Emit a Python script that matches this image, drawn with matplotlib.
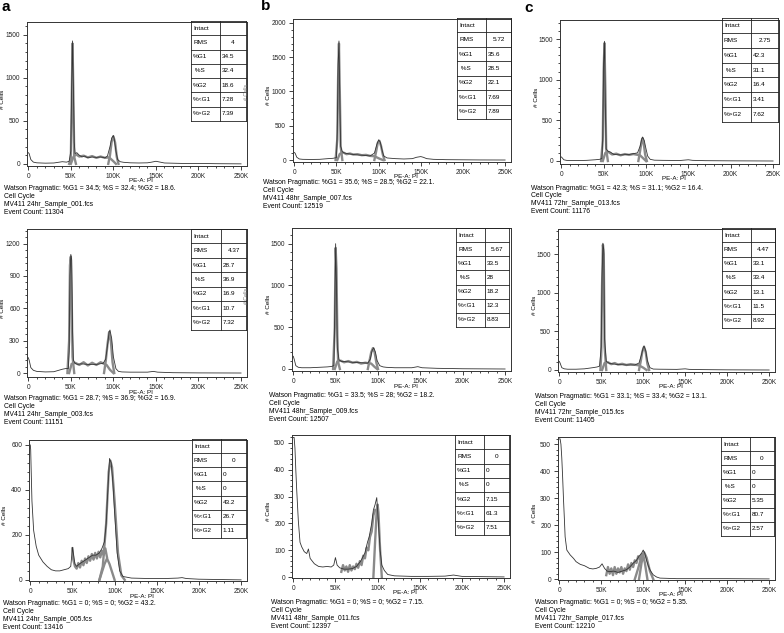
import matplotlib.pyplot as plt
from matplotlib.ticker import MultipleLocator, AutoMinorLocator

plt.rcParams['font.family'] = ['Liberation Sans', 'DejaVu Sans']

W, H = 784, 633

# ---- PE-A (in K) vs # cells ----
# column a, 24 hr
a1_raw_x = [0, 1, 3, 6, 10, 20, 30, 40, 45, 48, 50, 51, 52, 53, 54, 55, 57, 60, 63, 66, 70, 75, 80, 85, 90, 93, 96, 98, 100, 101, 103, 105, 108, 112, 120, 130, 140, 145, 150, 155, 160, 180, 200, 220, 250]
a1_raw_y = [130, 120, 50, 20, 12, 8, 10, 25, 20, 30, 150, 900, 1430, 900, 250, 120, 130, 100, 80, 90, 70, 80, 75, 80, 70, 90, 200, 300, 330, 290, 150, 50, 25, 18, 12, 10, 12, 20, 30, 20, 10, 5, 5, 2, 0]
a1_g1_x = [48, 50, 51, 52, 53, 54, 56]
a1_g1_y = [0, 60, 700, 1400, 800, 80, 0]
a1_g2_x = [94, 96, 98, 100, 102, 104, 106]
a1_g2_y = [0, 100, 260, 320, 250, 80, 0]
a1_s_x = [50, 53, 56, 60, 65, 70, 75, 80, 85, 90, 95, 100, 103]
a1_s_y = [0, 80, 110, 85, 95, 75, 90, 70, 85, 70, 75, 30, 0]

a2_raw_x = [0, 1, 3, 6, 10, 20, 30, 40, 45, 47, 48, 49, 50, 51, 52, 53, 55, 58, 62, 70, 80, 88, 91, 93, 95, 96, 98, 100, 103, 106, 110, 120, 140, 147, 152, 170, 200, 250]
a2_raw_y = [142, 120, 50, 25, 15, 10, 12, 35, 43, 40, 200, 900, 1100, 1050, 400, 120, 90, 80, 85, 80, 80, 90, 130, 250, 380, 399, 320, 150, 40, 15, 10, 8, 8, 15, 8, 3, 1, 0]
a2_g1_x = [46, 48, 49, 50, 51, 52, 54]
a2_g1_y = [0, 300, 1000, 1080, 700, 150, 0]
a2_g2_x = [89, 91, 93, 95, 97, 99, 101]
a2_g2_y = [0, 110, 260, 380, 300, 100, 0]
a2_s_x = [48, 51, 55, 60, 65, 70, 75, 80, 85, 92, 96, 100]
a2_s_y = [0, 85, 95, 75, 100, 70, 95, 75, 100, 75, 30, 0]

a3_raw_x = [0, 0.5, 1, 2, 4, 7, 10, 15, 20, 25, 30, 35, 40, 45, 48, 49, 50, 51, 53, 55, 58, 62, 66, 70, 74, 78, 82, 85, 88, 90, 92, 94, 96, 98, 100, 103, 106, 110, 120, 140, 160, 175, 180, 185, 200, 250]
a3_raw_y = [600, 580, 500, 350, 220, 150, 110, 80, 60, 45, 40, 40, 45, 50, 60, 100, 145, 120, 70, 60, 70, 80, 90, 100, 110, 110, 120, 140, 170, 250, 400, 540, 520, 430, 300, 120, 40, 15, 8, 6, 6, 8, 10, 6, 3, 0]
a3_g1_x = [82, 88, 91, 94, 100]
a3_g1_y = [0, 70, 95, 70, 0]
a3_g2_x = [82, 86, 90, 93, 95, 97, 100, 104, 108, 112]
a3_g2_y = [0, 60, 250, 480, 530, 500, 350, 120, 20, 0]
a3_s_x = [50, 51, 53, 55, 57, 59, 61, 63, 65, 67, 69, 71, 73, 75, 77, 79, 81, 83, 85, 87, 89, 91]
a3_s_y = [140, 90, 60, 50, 75, 55, 85, 65, 95, 75, 105, 85, 115, 90, 120, 95, 125, 100, 130, 110, 140, 100]

# column b, 48 hr
b1_raw_x = [0, 1, 3, 6, 10, 20, 30, 40, 46, 50, 51, 52, 53, 54, 55, 57, 60, 65, 70, 75, 80, 85, 90, 95, 98, 100, 102, 104, 106, 110, 120, 130, 140, 145, 150, 153, 157, 165, 180, 200, 220, 250]
b1_raw_y = [110, 100, 40, 15, 10, 8, 10, 20, 25, 35, 400, 1400, 1737, 900, 200, 120, 100, 90, 80, 75, 70, 65, 60, 100, 230, 295, 260, 150, 60, 30, 20, 15, 20, 40, 50, 40, 20, 10, 5, 3, 1, 0]
b1_g1_x = [49, 51, 52, 53, 54, 55, 57]
b1_g1_y = [0, 300, 1200, 1700, 1000, 200, 0]
b1_g2_x = [95, 97, 99, 101, 103, 105, 107]
b1_g2_y = [0, 120, 250, 280, 200, 80, 0]
b1_s_x = [51, 54, 58, 62, 66, 70, 75, 80, 85, 90, 95, 101, 105]
b1_s_y = [0, 90, 110, 85, 95, 80, 85, 70, 75, 60, 55, 20, 0]

b2_raw_x = [0, 1, 3, 6, 10, 20, 30, 40, 45, 48, 49, 50, 51, 52, 54, 57, 62, 70, 80, 88, 91, 93, 95, 97, 99, 102, 106, 110, 120, 140, 147, 152, 170, 200, 250]
b2_raw_y = [152, 120, 40, 20, 15, 15, 20, 25, 30, 40, 700, 1500, 1000, 250, 110, 90, 88, 80, 75, 70, 120, 220, 255, 200, 100, 40, 25, 20, 15, 15, 28, 15, 8, 3, 0]
b2_g1_x = [47, 49, 50, 51, 52, 53, 55]
b2_g1_y = [0, 500, 1450, 1200, 400, 80, 0]
b2_g2_x = [88, 90, 92, 94, 96, 98, 100]
b2_g2_y = [0, 100, 200, 250, 200, 80, 0]
b2_s_x = [49, 52, 56, 60, 65, 70, 75, 80, 85, 92, 96, 99]
b2_s_y = [0, 90, 100, 80, 95, 75, 85, 65, 75, 65, 25, 0]

b3_raw_x = [0, 1, 2, 3, 4, 5, 6, 8, 10, 13, 16, 18, 20, 25, 30, 35, 40, 45, 48, 50, 52, 55, 60, 65, 70, 75, 80, 85, 88, 90, 93, 95, 97, 99, 100, 101, 103, 105, 108, 112, 120, 140, 160, 180, 190, 200, 250]
b3_raw_y = [520, 520, 480, 400, 330, 270, 210, 130, 113, 95, 88, 105, 70, 50, 40, 38, 40, 38, 45, 73, 45, 35, 30, 30, 32, 40, 60, 90, 130, 150, 200, 250, 270, 296, 250, 200, 100, 45, 25, 10, 5, 3, 3, 4, 8, 3, 1]
b3_g2_x = [95, 97, 99, 100, 101, 103, 105]
b3_g2_y = [0, 130, 250, 270, 240, 100, 0]
b3_s_x = [57, 59, 61, 63, 65, 67, 69, 71, 73, 75, 77, 79, 81, 83, 85, 87, 89, 91, 93, 95, 97]
b3_s_y = [20, 45, 25, 40, 20, 45, 25, 40, 30, 50, 35, 60, 45, 80, 70, 110, 100, 150, 170, 230, 250]

# column c, 72 hr
c1_raw_x = [0, 1, 3, 6, 10, 20, 30, 40, 45, 48, 49, 50, 51, 52, 53, 55, 58, 62, 70, 80, 85, 90, 93, 95, 96, 98, 100, 102, 105, 110, 120, 140, 150, 155, 170, 200, 250]
c1_raw_y = [50, 40, 15, 8, 5, 5, 8, 15, 20, 30, 300, 1200, 1472, 700, 150, 120, 110, 80, 75, 80, 90, 100, 180, 270, 295, 250, 150, 60, 20, 10, 8, 6, 15, 8, 4, 2, 0]
c1_g1_x = [47, 49, 50, 51, 52, 53, 55]
c1_g1_y = [0, 250, 1100, 1450, 900, 150, 0]
c1_g2_x = [91, 93, 95, 96, 97, 99, 101]
c1_g2_y = [0, 120, 250, 280, 240, 80, 0]
c1_s_x = [49, 52, 55, 60, 65, 70, 75, 80, 85, 93, 97, 100]
c1_s_y = [0, 100, 115, 80, 90, 70, 85, 75, 85, 70, 30, 0]

c2_raw_x = [0, 1, 3, 6, 10, 20, 30, 40, 45, 48, 50, 51, 52, 53, 54, 56, 60, 70, 80, 90, 95, 98, 100, 101, 103, 105, 108, 112, 120, 140, 150, 155, 170, 200, 250]
c2_raw_y = [112, 90, 30, 15, 10, 10, 15, 30, 39, 50, 300, 1200, 1640, 1560, 400, 110, 85, 70, 65, 65, 90, 200, 290, 311, 250, 120, 30, 12, 10, 8, 15, 8, 5, 2, 0]
c2_g1_x = [49, 50, 51, 52, 53, 54, 56]
c2_g1_y = [0, 200, 1100, 1620, 1500, 300, 0]
c2_g2_x = [95, 97, 99, 101, 103, 105, 107]
c2_g2_y = [0, 110, 240, 300, 230, 80, 0]
c2_s_x = [51, 54, 58, 62, 66, 70, 75, 80, 85, 95, 100, 104]
c2_s_y = [0, 90, 100, 75, 90, 70, 80, 65, 75, 60, 30, 0]

c3_raw_x = [0, 1, 2, 3, 4, 5, 6, 7, 9, 13, 17, 20, 25, 30, 36, 40, 44, 48, 51, 54, 57, 60, 65, 70, 75, 80, 84, 88, 92, 95, 98, 100, 102, 104, 106, 108, 110, 112, 116, 120, 140, 160, 200, 250]
c3_raw_y = [520, 520, 500, 450, 380, 300, 230, 157, 108, 90, 77, 65, 55, 50, 40, 38, 40, 45, 57, 40, 30, 28, 30, 25, 30, 35, 45, 59, 70, 85, 96, 108, 95, 70, 50, 35, 25, 16, 8, 4, 2, 2, 2, 1]
c3_g1_x = [95, 98, 100, 102, 105]
c3_g1_y = [0, 60, 90, 60, 0]
c3_g2_x = [90, 94, 98, 101, 104, 108, 112]
c3_g2_y = [0, 40, 85, 100, 80, 30, 0]
c3_s_x = [56, 58, 60, 62, 64, 66, 68, 70, 72, 74, 76, 78, 80, 82, 84, 86, 88, 90, 92, 94, 96, 98]
c3_s_y = [15, 45, 20, 40, 15, 45, 20, 40, 25, 45, 20, 40, 30, 55, 35, 60, 45, 70, 60, 85, 75, 90]

# ---- table values and sample info, order a1 b1 c1 a2 b2 c2 a3 b3 c3 ----
sample_files = ['24hr_Sample_001', '48hr_Sample_007', '72hr_Sample_013',
                '24hr_Sample_003', '48hr_Sample_009', '72hr_Sample_015',
                '24hr_Sample_005', '48hr_Sample_011', '72hr_Sample_017']
event_counts = [11304, 12519, 11176, 11151, 12507, 11405, 13416, 12397, 12210]
rms_vals = ['4', '5.72', '2.75', '4.37', '5.67', '4.47', '0', '0', '0']
g1_vals = ['34.5', '35.6', '42.3', '28.7', '33.5', '33.1', '0', '0', '0']
s_vals = ['32.4', '28.5', '31.1', '36.9', '28', '33.4', '0', '0', '0']
g2_vals = ['18.6', '22.1', '16.4', '16.9', '18.2', '13.1', '43.2', '7.15', '5.35']
lt_g1_vals = ['7.28', '7.69', '3.41', '10.7', '12.3', '11.5', '26.7', '61.3', '80.7']
gt_g2_vals = ['7.39', '7.89', '7.62', '7.32', '8.83', '8.92', '1.11', '7.51', '2.57']
row_labels = ['Intact', 'RMS', '%G1', ' %S', '%G2', '%<G1', '%>G2']
x_ticks = [0, 50, 100, 150, 200, 250]
x_tick_labels = ['0', '50K', '100K', '150K', '200K', '250K']

raws = [(a1_raw_x, a1_raw_y), (b1_raw_x, b1_raw_y), (c1_raw_x, c1_raw_y),
        (a2_raw_x, a2_raw_y), (b2_raw_x, b2_raw_y), (c2_raw_x, c2_raw_y),
        (a3_raw_x, a3_raw_y), (b3_raw_x, b3_raw_y), (c3_raw_x, c3_raw_y)]
fits = [[(a1_g1_x, a1_g1_y), (a1_g2_x, a1_g2_y), (a1_s_x, a1_s_y)],
        [(b1_g1_x, b1_g1_y), (b1_g2_x, b1_g2_y), (b1_s_x, b1_s_y)],
        [(c1_g1_x, c1_g1_y), (c1_g2_x, c1_g2_y), (c1_s_x, c1_s_y)],
        [(a2_g1_x, a2_g1_y), (a2_g2_x, a2_g2_y), (a2_s_x, a2_s_y)],
        [(b2_g1_x, b2_g1_y), (b2_g2_x, b2_g2_y), (b2_s_x, b2_s_y)],
        [(c2_g1_x, c2_g1_y), (c2_g2_x, c2_g2_y), (c2_s_x, c2_s_y)],
        [(a3_g1_x, a3_g1_y), (a3_g2_x, a3_g2_y), (a3_s_x, a3_s_y)],
        [(b3_g2_x, b3_g2_y), (b3_s_x, b3_s_y)],
        [(c3_g1_x, c3_g1_y), (c3_g2_x, c3_g2_y), (c3_s_x, c3_s_y)]]

# ---- layout (pixels of the 784x633 picture) ----
ax_px = [(27, 22, 247, 166), (293, 19, 511, 162), (560, 20, 779, 164),
         (27, 229, 247, 377), (292, 228, 511, 371), (558, 229, 775, 372),
         (29, 440, 247, 581), (292, 435, 510, 578), (558, 437, 775, 580)]
y_lims = [(-25, 1650), (-29, 2058), (-37, 1734),
          (-37, 1336), (-24, 1688), (-26, 1824),
          (-5, 622), (-3, 529), (-3, 527)]
y_steps = [500, 500, 500, 300, 500, 500, 200, 100, 100]
tab_px = [(191, 220, 246, 21, 121), (457, 486, 511, 18, 119), (722, 751, 778, 18, 122),
          (191, 221, 246, 229, 330), (456, 485, 509, 228, 327), (722, 751, 775, 228, 328),
          (192, 221, 246, 439, 538), (455, 484, 509, 435, 535), (721, 750, 774, 437, 536)]
txt_x = [4, 263, 531, 4, 269, 535, 3, 271, 535]
txt_y = [189, 182.5, 188, 398.5, 395.5, 397, 603.5, 603, 603]
ghost_px = [(247, 92), (247, 296)]   # faint "# Cells" leftovers right of the tables

RAW_C = '#333333'
FIT_C = '#8a8a8a'
FS = 4.9


def rect(l, t, r, b):
    return [l / W, 1 - b / H, (r - l) / W, (b - t) / H]


fig = plt.figure(figsize=(W / 100, H / 100), dpi=100)

for i in range(9):
    l, t, r, b = ax_px[i]
    ax = fig.add_axes(rect(l, t, r, b))
    for fx, fy in fits[i]:
        ax.plot(fx, fy, color=FIT_C, lw=1.7, solid_joinstyle='round')
    ax.plot(raws[i][0], raws[i][1], color=RAW_C, lw=0.6)
    ax.set_xlim(-1.5, 257)
    ax.set_ylim(*y_lims[i])
    ax.set_xticks(x_ticks)
    ax.set_xticklabels(x_tick_labels)
    ax.yaxis.set_major_locator(MultipleLocator(y_steps[i]))
    ax.xaxis.set_minor_locator(MultipleLocator(10))
    ax.yaxis.set_minor_locator(AutoMinorLocator(5))
    ax.tick_params(which='major', direction='out', length=3, width=0.6,
                   labelsize=4.7, pad=2, colors='#222222')
    ax.tick_params(which='minor', direction='out', length=1.3, width=0.5)
    for sp in ax.spines.values():
        sp.set_linewidth(0.7)
        sp.set_color('#333333')

    # axis titles
    fig.text((l - 24) / W, 1 - ((t + b) / 2 + 5) / H, '# Cells', rotation=90,
             ha='center', va='center', fontsize=FS - 0.3)
    fig.text((l + 0.52 * (r - l)) / W, 1 - (b + 15) / H, 'PE-A: PI',
             ha='center', va='center', fontsize=4.5)

    # info lines
    info = ['Watson Pragmatic: %%G1 = %s; %%S = %s; %%G2 = %s.' % (g1_vals[i], s_vals[i], g2_vals[i]),
            'Cell Cycle',
            'MV411 %s.fcs' % sample_files[i],
            'Event Count: %d' % event_counts[i]]
    for k, line in enumerate(info):
        fig.text(txt_x[i] / W, 1 - (txt_y[i] + 7.9 * k) / H, line,
                 ha='left', va='center', fontsize=FS)

    # stats table
    x0, xm, x1, y0, y1 = tab_px[i]
    tax = fig.add_axes(rect(x0, y0, x1, y1))
    tax.set_xlim(x0, x1)
    tax.set_ylim(7, 0)
    tax.set_axis_off()
    tax.patch.set_facecolor('white')
    tax.patch.set_visible(True)
    for k in range(8):
        tax.plot([x0, x1], [k, k], color='#222222', lw=0.6, clip_on=False)
    for xx in (x0, xm, x1):
        tax.plot([xx, xx], [0, 7], color='#222222', lw=0.6, clip_on=False)
    vals = ['', rms_vals[i], g1_vals[i], s_vals[i], g2_vals[i], lt_g1_vals[i], gt_g2_vals[i]]
    for k in range(7):
        tax.text(x0 + 2, k + 0.5, row_labels[k], ha='left', va='center', fontsize=FS - 0.3)
        if k == 1:
            tax.text((xm + x1) / 2, k + 0.5, vals[k], ha='center', va='center', fontsize=FS - 0.3)
        else:
            tax.text(xm + 1.5, k + 0.5, vals[k], ha='left', va='center', fontsize=FS - 0.3)

for gx, gy in ghost_px:
    fig.text(gx / W, 1 - gy / H, '# Cells', rotation=90, ha='center', va='center',
             fontsize=3.8, color='#777777')

# panel letters
for letter, lx, ly in [('a', 2, 7), ('b', 261, 6), ('c', 524, 8)]:
    fig.text(lx / W, 1 - ly / H, letter, fontsize=11, fontweight='bold',
             ha='left', va='center')

fig.savefig('out.png', dpi=100)
